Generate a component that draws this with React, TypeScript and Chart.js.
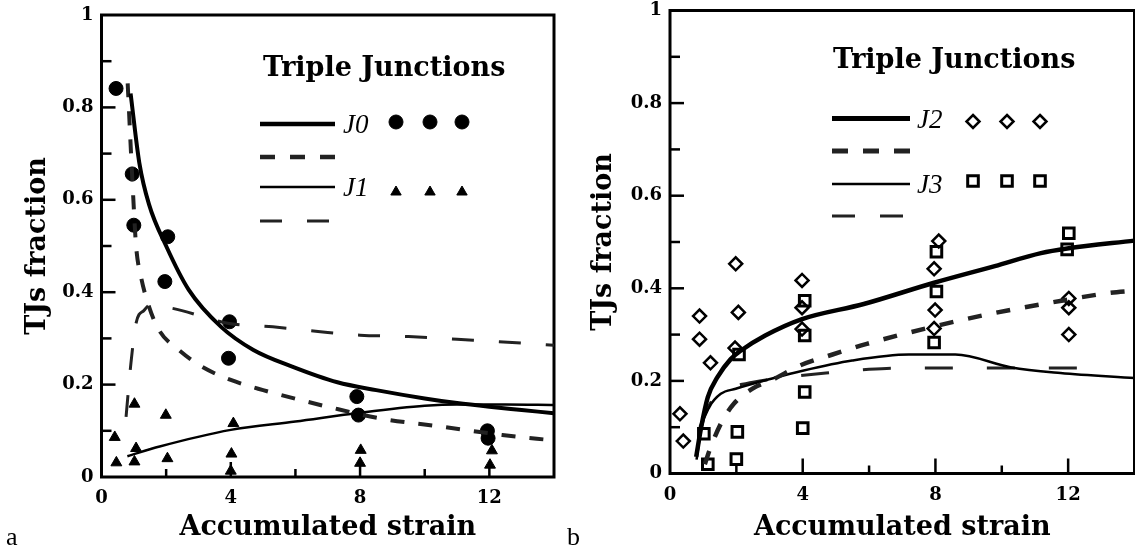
import React, { useEffect, useRef } from 'react';
import { Chart, registerables } from 'chart.js';

Chart.register(...registerables);

// ---------- tick labels ----------
const X_TICK_LABELS = ['0', '4', '8', '12'];
const Y_TICK_LABELS = ['0', '0.2', '0.4', '0.6', '0.8', '1'];

// ---------- panel a: measured points ----------
const J0_X = [0.45, 0.95, 1.0, 2.05, 1.96, 3.96, 3.93, 7.9, 7.95, 11.94, 11.96];
const J0_Y = [0.841, 0.656, 0.545, 0.52, 0.423, 0.336, 0.257, 0.174, 0.134, 0.1, 0.084];
const J1_X = [0.41, 0.46, 1.02, 1.07, 1.02, 1.99, 2.04, 4.08, 4.02, 4.0, 8.02, 8.0, 12.08, 12.02];
const J1_Y = [0.086, 0.031, 0.158, 0.062, 0.033, 0.134, 0.04, 0.116, 0.05, 0.013, 0.058, 0.03, 0.057, 0.026];

// ---------- panel a: model curves ----------
const J0_SOLID_X = [0.9, 1.17, 1.47, 2.0, 2.7, 3.7, 4.7, 5.9, 7.3, 8.5, 10, 11, 12, 13, 14];
const J0_SOLID_Y = [0.83, 0.68, 0.59, 0.5, 0.405, 0.325, 0.275, 0.239, 0.205, 0.188, 0.17, 0.16, 0.152, 0.145, 0.138];
const J0_DASH_X = [0.81, 0.96, 1.07, 1.22, 1.47, 1.78, 2.39, 3.1, 4.0, 5.0, 6.25, 7.0, 8.6, 10.5, 12.4, 14];
const J0_DASH_Y = [0.852, 0.636, 0.5, 0.434, 0.369, 0.318, 0.275, 0.239, 0.21, 0.188, 0.165, 0.152, 0.127, 0.109, 0.091, 0.079];
const J1_SOLID_X = [0.8, 1.8, 4.0, 6.0, 8.0, 10.0, 11.0, 12.5, 14];
const J1_SOLID_Y = [0.045, 0.066, 0.102, 0.12, 0.139, 0.154, 0.157, 0.157, 0.156];
const J1_DASH_X = [0.76, 0.91, 1.07, 1.32, 1.5, 2.2, 3.9, 5.3, 6.7, 8.0, 9.5, 11.0, 12.3, 14];
const J1_DASH_Y = [0.13, 0.246, 0.333, 0.361, 0.372, 0.365, 0.333, 0.325, 0.315, 0.307, 0.304, 0.298, 0.293, 0.285];

// ---------- panel b: measured points ----------
const J2_X = [0.3, 0.4, 0.89, 0.89, 1.22, 1.98, 2.06, 1.96, 3.98, 3.98, 3.98, 8.1, 7.96, 7.99, 7.96, 12.02, 12.02, 12.02];
const J2_Y = [0.129, 0.07, 0.34, 0.29, 0.239, 0.453, 0.348, 0.271, 0.417, 0.358, 0.312, 0.502, 0.442, 0.353, 0.313, 0.378, 0.358, 0.3];
const J3_X = [1.02, 1.14, 2.03, 2.0, 2.08, 4.06, 4.0, 4.06, 4.06, 8.03, 8.03, 7.96, 12.02, 11.97];
const J3_Y = [0.086, 0.02, 0.09, 0.031, 0.257, 0.176, 0.098, 0.373, 0.298, 0.479, 0.393, 0.283, 0.519, 0.484];

// ---------- panel b: model curves ----------
const J2_SOLID_X = [0.79, 0.94, 1.14, 1.43, 1.83, 2.13, 2.87, 3.96, 5.84, 7.96, 9.79, 11.18, 11.97, 14];
const J2_SOLID_Y = [0.036, 0.1, 0.165, 0.208, 0.247, 0.265, 0.298, 0.333, 0.366, 0.412, 0.448, 0.476, 0.486, 0.503];
const J2_DASH_X = [1.05, 1.19, 1.55, 1.93, 2.5, 3.13, 3.91, 4.9, 5.93, 7.81, 9.6, 11.47, 13.25, 14];
const J2_DASH_Y = [0.02, 0.05, 0.11, 0.151, 0.184, 0.204, 0.233, 0.257, 0.28, 0.315, 0.344, 0.369, 0.39, 0.395];
const J3_SOLID_X = [0.8, 0.95, 1.19, 1.53, 1.98, 3.02, 4.0, 5.49, 7.2, 8.6, 10.29, 11.77, 14];
const J3_SOLID_Y = [0.03, 0.1, 0.144, 0.172, 0.183, 0.204, 0.222, 0.244, 0.257, 0.257, 0.229, 0.217, 0.206];
const J3_DASH_X = [0.9, 1.2, 1.6, 2.5, 3.5, 4.7, 6.0, 7.0, 8.7, 10.5, 12.8];
const J3_DASH_Y = [0.1, 0.15, 0.178, 0.197, 0.208, 0.217, 0.225, 0.228, 0.228, 0.228, 0.228];

const SERIF = '"DejaVu Serif", "Liberation Serif", serif';
const ITALIC = '"Liberation Serif", "DejaVu Serif", serif';

const pts = (xs: number[], ys: number[]) => xs.map((x, i) => ({ x, y: ys[i] }));

function lineDs(xs: number[], ys: number[], width: number, dash: number[], color = '#000') {
  return {
    type: 'line' as const,
    data: pts(xs, ys),
    borderColor: color,
    borderWidth: width,
    borderDash: dash,
    pointRadius: 0,
    showLine: true,
    fill: false,
    cubicInterpolationMode: 'monotone' as const,
  };
}

function markerDs(xs: number[], ys: number[], style: string, radius: number, filled: boolean, bw: number) {
  return {
    type: 'scatter' as const,
    data: pts(xs, ys),
    pointStyle: style,
    pointRadius: radius,
    pointBackgroundColor: filled ? '#000' : 'rgba(0,0,0,0)',
    pointBorderColor: '#000',
    pointBorderWidth: bw,
    showLine: false,
  };
}

function drawMarker(ctx: CanvasRenderingContext2D, style: string, x: number, y: number, r: number, filled: boolean, bw: number) {
  ctx.beginPath();
  if (style === 'circle') {
    ctx.arc(x, y, r, 0, Math.PI * 2);
  } else if (style === 'triangle') {
    for (let k = 0; k < 3; k++) {
      const a = (k * 2 * Math.PI) / 3;
      const px = x + Math.sin(a) * r;
      const py = y - Math.cos(a) * r;
      if (k === 0) ctx.moveTo(px, py); else ctx.lineTo(px, py);
    }
    ctx.closePath();
  } else if (style === 'rectRot') {
    ctx.moveTo(x, y - r); ctx.lineTo(x + r, y); ctx.lineTo(x, y + r); ctx.lineTo(x - r, y); ctx.closePath();
  } else {
    const s = r * Math.SQRT1_2;
    ctx.rect(x - s, y - s, 2 * s, 2 * s);
  }
  ctx.fillStyle = '#000';
  ctx.strokeStyle = '#000';
  ctx.lineWidth = bw;
  if (filled) ctx.fill();
  ctx.stroke();
}

type LegendRow = { y: number; width: number; dash: number[]; x2: number; label?: string; marker?: string; mr?: number; mFilled?: boolean; mBw?: number; my?: number };
type PanelSpec = {
  canvasWidth: number;
  areaLeft: number;
  areaRight: number;
  areaTop: number;
  areaBottom: number;
  yTitleGap: number;
  panelLetter: string;
  letterX: number;
  legendX: number;
  titleX: number;
  titleY: number;
  labelX: number;
  markerXs: number[];
  rows: LegendRow[];
  datasets: any[];
};

function buildConfig(spec: PanelSpec) {
  const decor = {
    id: 'decor',
    beforeDatasetsDraw(chart: any) {
      const { ctx, chartArea } = chart;
      const { left, right, top, bottom } = chartArea;
      ctx.save();
      ctx.strokeStyle = '#000';
      ctx.lineWidth = 3;
      ctx.strokeRect(left, top, right - left, bottom - top);
      ctx.lineWidth = 2.5;
      const xs = chart.scales.x;
      xs.ticks.forEach((t: any) => {
        if (t.value <= xs.min + 1e-9 || t.value >= xs.max - 1e-9) return;
        const px = xs.getPixelForValue(t.value);
        const major = Math.round(t.value) % 4 === 0;
        ctx.beginPath();
        ctx.moveTo(px, bottom);
        ctx.lineTo(px, bottom - (major ? 15 : 8));
        ctx.stroke();
      });
      const ys = chart.scales.y;
      ys.ticks.forEach((t: any) => {
        if (t.value <= ys.min + 1e-9 || t.value >= ys.max - 1e-9) return;
        const py = ys.getPixelForValue(t.value);
        const major = Math.round(t.value * 10) % 2 === 0;
        ctx.beginPath();
        ctx.moveTo(left, py);
        ctx.lineTo(left + (major ? 14 : 10), py);
        ctx.stroke();
      });
      ctx.restore();
    },
    afterDraw(chart: any) {
      const { ctx } = chart;
      ctx.save();
      ctx.fillStyle = '#000';
      ctx.textBaseline = 'alphabetic';
      ctx.textAlign = 'left';
      ctx.font = `bold 27px ${SERIF}`;
      ctx.fillText('Triple Junctions', spec.titleX, spec.titleY);
      spec.rows.forEach((row) => {
        ctx.save();
        ctx.strokeStyle = row.dash.length ? '#222' : '#000';
        ctx.lineWidth = row.width;
        ctx.setLineDash(row.dash);
        ctx.beginPath();
        ctx.moveTo(spec.legendX, row.y);
        ctx.lineTo(row.x2, row.y);
        ctx.stroke();
        ctx.restore();
        if (row.label) {
          ctx.font = `italic 27px ${ITALIC}`;
          ctx.textBaseline = 'middle';
          ctx.fillStyle = '#000';
          ctx.fillText(row.label, spec.labelX, row.y + 2);
          spec.markerXs.forEach((mx) => drawMarker(ctx, row.marker!, mx, row.my!, row.mr!, !!row.mFilled, row.mBw!));
        }
      });
      ctx.font = `26px ${ITALIC}`;
      ctx.textBaseline = 'alphabetic';
      ctx.fillStyle = '#000';
      ctx.fillText(spec.panelLetter, spec.letterX, 545);
      ctx.restore();
    },
  };

  const tickFont = { family: SERIF, size: 18, weight: 'bold' as const };
  const titleFont = { family: SERIF, size: 27, weight: 'bold' as const };

  return {
    type: 'scatter' as const,
    data: { datasets: spec.datasets },
    plugins: [decor],
    options: {
      responsive: false,
      animation: false as const,
      devicePixelRatio: 1,
      layout: { padding: { left: 0, right: spec.canvasWidth - spec.areaRight, top: spec.areaTop, bottom: 0 } },
      plugins: { legend: { display: false }, tooltip: { enabled: false }, title: { display: false } },
      scales: {
        x: {
          type: 'linear' as const,
          min: 0,
          max: 14,
          grid: { display: false, drawTicks: false },
          border: { display: false },
          ticks: {
            stepSize: 2,
            padding: 11,
            color: '#000',
            font: tickFont,
            maxRotation: 0,
            autoSkip: false,
            callback: (v: any) => (X_TICK_LABELS.includes(String(v)) ? String(v) : ''),
          },
          title: { display: true, text: 'Accumulated strain', color: '#000', font: titleFont, padding: { top: 0, bottom: 5 } },
          afterFit: (s: any) => { s.height = 549 - spec.areaBottom; s.paddingLeft = 0; s.paddingRight = 0; },
        },
        y: {
          type: 'linear' as const,
          min: 0,
          max: 1,
          grid: { display: false, drawTicks: false },
          border: { display: false },
          ticks: {
            stepSize: 0.1,
            padding: 8,
            color: '#000',
            font: tickFont,
            autoSkip: false,
            callback: (v: any) => {
              const s = String(Number(Number(v).toFixed(1)));
              return Y_TICK_LABELS.includes(s) ? s : '';
            },
          },
          title: { display: true, text: 'TJs fraction', color: '#000', font: titleFont, padding: { top: spec.yTitleGap, bottom: 0 } },
          afterFit: (s: any) => { s.width = spec.areaLeft; s.paddingTop = 0; s.paddingBottom = 0; },
        },
      },
    },
  };
}

const specA: PanelSpec = {
  canvasWidth: 562,
  areaLeft: 101.5,
  areaRight: 559.5,
  areaTop: 15,
  areaBottom: 477,
  yTitleGap: 22,
  panelLetter: 'a',
  letterX: 6,
  legendX: 260,
  titleX: 263,
  titleY: 76,
  labelX: 343,
  markerXs: [396, 430, 462],
  rows: [
    { y: 124, width: 4.5, dash: [], x2: 335, label: 'J0', marker: 'circle', mr: 7, mFilled: true, mBw: 1, my: 122 },
    { y: 157, width: 4.5, dash: [15, 15], x2: 335 },
    { y: 187, width: 2.5, dash: [], x2: 335, label: 'J1', marker: 'triangle', mr: 6, mFilled: true, mBw: 1, my: 192 },
    { y: 221, width: 3, dash: [22, 25], x2: 329 },
  ],
  datasets: [
    lineDs(J0_SOLID_X, J0_SOLID_Y, 4, []),
    lineDs(J0_DASH_X, J0_DASH_Y, 4, [14, 14], '#222'),
    lineDs(J1_SOLID_X, J1_SOLID_Y, 2.5, []),
    lineDs(J1_DASH_X, J1_DASH_Y, 3, [22, 25], '#222'),
    markerDs(J0_X, J0_Y, 'circle', 7, true, 1),
    markerDs(J1_X, J1_Y, 'triangle', 6.3, true, 1),
  ],
};

const specB: PanelSpec = {
  canvasWidth: 585,
  areaLeft: 110,
  areaRight: 582,
  areaTop: 8,
  areaBottom: 473.5,
  yTitleGap: 28,
  panelLetter: 'b',
  letterX: 7,
  legendX: 272,
  titleX: 273,
  titleY: 68,
  labelX: 357,
  markerXs: [413, 447, 480],
  rows: [
    { y: 118.5, width: 5, dash: [], x2: 350, label: 'J2', marker: 'rectRot', mr: 6.5, mFilled: false, mBw: 2.5, my: 121.5 },
    { y: 151, width: 5, dash: [16, 15], x2: 350 },
    { y: 184, width: 2.5, dash: [], x2: 350, label: 'J3', marker: 'rect', mr: 7.5, mFilled: false, mBw: 3, my: 181 },
    { y: 216, width: 3, dash: [23, 25], x2: 344 },
  ],
  datasets: [
    lineDs(J2_SOLID_X, J2_SOLID_Y, 4.5, []),
    lineDs(J2_DASH_X, J2_DASH_Y, 4.5, [14, 15], '#222'),
    lineDs(J3_SOLID_X, J3_SOLID_Y, 2.5, []),
    lineDs(J3_DASH_X, J3_DASH_Y, 3, [28, 34], '#222'),
    markerDs(J2_X, J2_Y, 'rectRot', 6.5, false, 2.5),
    markerDs(J3_X, J3_Y, 'rect', 7.5, false, 3),
  ],
};

function Panel({ spec, left }: { spec: PanelSpec; left: number }) {
  const ref = useRef<HTMLCanvasElement>(null);
  useEffect(() => {
    const chart = new Chart(ref.current as HTMLCanvasElement, buildConfig(spec) as any);
    return () => chart.destroy();
  }, [spec]);
  return (
    <canvas
      ref={ref}
      width={spec.canvasWidth}
      height={549}
      style={{ position: 'absolute', left, top: 0, width: spec.canvasWidth, height: 549 }}
    />
  );
}

export default function App() {
  return (
    <div style={{ position: 'absolute', left: 0, top: 0, width: 1135, height: 549, overflow: 'hidden', background: '#fff' }}>
      <Panel spec={specA} left={0} />
      <Panel spec={specB} left={560} />
    </div>
  );
}
